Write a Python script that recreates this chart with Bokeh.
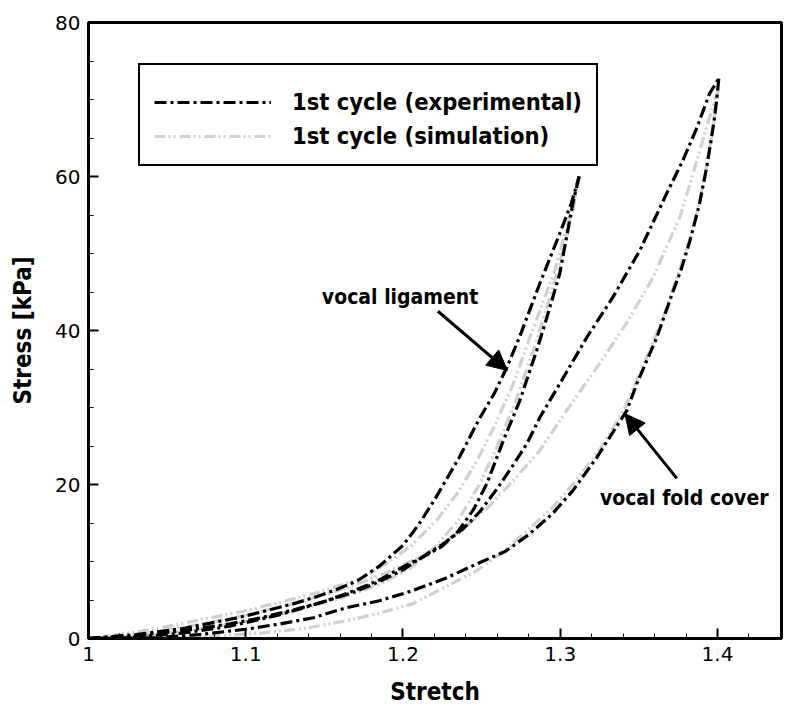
from bokeh.plotting import figure
from bokeh.models import Range1d, FixedTicker, PrintfTickFormatter, Legend, LegendItem, Label, Arrow, NormalHead
from bokeh.embed import file_html
from bokeh.resources import INLINE

# ---- data ----
lig_exp_load_x = [1.00, 1.03, 1.06, 1.075, 1.095, 1.113, 1.13, 1.143, 1.157, 1.171, 1.185, 1.20, 1.21, 1.22, 1.236, 1.249, 1.258, 1.266, 1.274, 1.287, 1.2997, 1.307, 1.312]
lig_exp_load_y = [0, 0.5, 1.3, 1.9, 2.7, 3.6, 4.5, 5.3, 6.3, 7.5, 9.4, 12.1, 14.8, 18.0, 23.6, 28.7, 31.8, 35.2, 39.1, 46.1, 52.6, 56.5, 60.0]
lig_exp_unload_x = [1.312, 1.308, 1.2997, 1.2915, 1.285, 1.2743, 1.2638, 1.2533, 1.245, 1.235, 1.225, 1.212, 1.20, 1.185, 1.17, 1.15, 1.12, 1.09, 1.06, 1.03, 1.00]
lig_exp_unload_y = [60.0, 56.5, 47.4, 41.7, 37.4, 30.9, 25.7, 20.1, 16.8, 13.9, 12.0, 10.5, 9.3, 7.6, 6.3, 4.8, 3.0, 1.6, 0.7, 0.2, 0]

lig_sim_load_x = [1.00, 1.03, 1.058, 1.10, 1.143, 1.175, 1.19, 1.205, 1.222, 1.235, 1.247, 1.258, 1.27, 1.2805, 1.296, 1.305, 1.312]
lig_sim_load_y = [0, 0.8, 1.9, 3.6, 5.8, 7.9, 9.8, 12.0, 15.5, 19.0, 23.1, 27.5, 33.0, 39.0, 47.5, 54.0, 60.0]
lig_sim_unload_x = [1.312, 1.308, 1.302, 1.293, 1.283, 1.272, 1.26, 1.248, 1.235, 1.22, 1.205, 1.185, 1.16, 1.13, 1.10, 1.06, 1.03, 1.00]
lig_sim_unload_y = [60.0, 55.5, 50.5, 44.0, 37.5, 31.0, 25.0, 19.8, 15.3, 11.8, 9.2, 7.0, 5.2, 3.5, 2.2, 0.9, 0.3, 0]

cov_exp_load_x = [1.00, 1.03, 1.06, 1.09, 1.11, 1.13, 1.15, 1.17, 1.185, 1.20, 1.21, 1.225, 1.238, 1.249, 1.26, 1.27, 1.2788, 1.287, 1.2997, 1.3169, 1.3334, 1.3506, 1.3677, 1.378, 1.387, 1.395, 1.4008]
cov_exp_load_y = [0, 0.4, 1.0, 1.9, 2.7, 3.7, 4.8, 6.1, 7.4, 8.9, 10.3, 12.2, 14.2, 16.5, 19.5, 22.5, 25.3, 28.7, 33.1, 39.1, 44.3, 50.4, 57.8, 62.1, 66.4, 70.8, 72.7]
cov_exp_unload_x = [1.4008, 1.3995, 1.398, 1.396, 1.3931, 1.3885, 1.3824, 1.377, 1.3716, 1.3614, 1.3487, 1.3423, 1.3232, 1.308, 1.295, 1.28, 1.265, 1.247, 1.228, 1.206, 1.185, 1.164, 1.143, 1.122, 1.10, 1.07, 1.04, 1.00]
cov_exp_unload_y = [72.7, 70.0, 67.5, 64.8, 61.2, 56.4, 51.6, 48.0, 45.0, 39.1, 33.1, 29.6, 23.5, 19.2, 16.2, 13.5, 11.3, 9.7, 7.9, 6.2, 4.9, 4.0, 2.7, 1.9, 1.2, 0.5, 0.1, 0]

cov_sim_load_x = [1.00, 1.04, 1.07, 1.10, 1.13, 1.15, 1.17, 1.19, 1.21, 1.225, 1.24, 1.255, 1.27, 1.287, 1.304, 1.325, 1.342, 1.359, 1.376, 1.387, 1.393, 1.3996, 1.4005]
cov_sim_load_y = [0, 0.8, 1.8, 3.0, 4.5, 5.7, 7.0, 8.6, 10.5, 12.3, 14.5, 17.2, 20.5, 24.4, 29.6, 35.7, 40.9, 46.9, 54.7, 62.1, 66.4, 70.8, 71.5]
cov_sim_unload_x = [1.4005, 1.397, 1.392, 1.385, 1.376, 1.366, 1.355, 1.34, 1.325, 1.31, 1.295, 1.28, 1.265, 1.247, 1.225, 1.206, 1.185, 1.164, 1.14, 1.11, 1.07, 1.00]
cov_sim_unload_y = [71.5, 66.0, 60.0, 53.5, 48.0, 42.0, 36.5, 29.5, 24.5, 20.5, 17.0, 14.2, 11.5, 8.8, 6.5, 4.5, 3.3, 2.3, 1.4, 0.7, 0.2, 0]

x_ticks = [1.0, 1.1, 1.2, 1.3, 1.4]
x_minor = [1.02, 1.04, 1.06, 1.08, 1.12, 1.14, 1.16, 1.18, 1.22, 1.24, 1.26, 1.28, 1.32, 1.34, 1.36, 1.38, 1.42, 1.44]
y_ticks = [0, 20, 40, 60, 80]
y_minor = [5, 10, 15, 25, 30, 35, 45, 50, 55, 65, 70, 75]

legend_labels = ["1st cycle (experimental)", "1st cycle (simulation)"]

# ---- figure ----
BOLD_FONT = "DejaVu Sans Condensed"
p = figure(frame_width=693, frame_height=616, output_backend="svg", toolbar_location=None,
           x_range=Range1d(1.0, 1.4407), y_range=Range1d(0, 80),
           min_border_left=88, min_border_right=15, min_border_top=22, min_border_bottom=72)
p.grid.visible = False
p.outline_line_color = "black"
p.outline_line_width = 3
p.outline_line_alpha = 1
p.background_fill_color = "white"
p.border_fill_color = "white"

for ax in (p.xaxis[0], p.yaxis[0]):
    ax.axis_line_width = 3
    ax.major_tick_in = 10
    ax.major_tick_out = 0
    ax.minor_tick_in = 5
    ax.minor_tick_out = 0
    ax.major_tick_line_width = 2
    ax.minor_tick_line_width = 1
    ax.major_label_text_font = "DejaVu Sans"
    ax.major_label_text_font_size = "20px"
    ax.major_label_text_color = "black"
    ax.axis_label_text_font = BOLD_FONT
    ax.axis_label_text_font_style = "bold"
    ax.axis_label_text_font_size = "24px"
    ax.axis_label_text_color = "black"
    ax.formatter = PrintfTickFormatter(format="%g")

p.xaxis[0].ticker = FixedTicker(ticks=x_ticks, minor_ticks=x_minor)
p.yaxis[0].ticker = FixedTicker(ticks=y_ticks, minor_ticks=y_minor)
p.xaxis[0].axis_label = "Stretch"
p.yaxis[0].axis_label = "Stress [kPa]"
p.xaxis[0].major_label_standoff = 8
p.yaxis[0].major_label_standoff = 8
p.xaxis[0].axis_label_standoff = 14
p.yaxis[0].axis_label_standoff = 15

EXP = dict(line_color="black", line_width=3.2, line_dash="12 4 3 4")
SIM = dict(line_color="#d0d0d0", line_width=3.2, line_dash="11 3 2 3 2 4")

r_sim = []
for xs, ys in [(lig_sim_load_x, lig_sim_load_y), (lig_sim_unload_x, lig_sim_unload_y),
               (cov_sim_load_x, cov_sim_load_y), (cov_sim_unload_x, cov_sim_unload_y)]:
    r_sim.append(p.line(xs, ys, **SIM))
r_exp = []
for xs, ys in [(lig_exp_load_x, lig_exp_load_y), (lig_exp_unload_x, lig_exp_unload_y),
               (cov_exp_load_x, cov_exp_load_y), (cov_exp_unload_x, cov_exp_unload_y)]:
    r_exp.append(p.line(xs, ys, **EXP))

legend = Legend(items=[LegendItem(label=legend_labels[0], renderers=[r_exp[0]]),
                       LegendItem(label=legend_labels[1], renderers=[r_sim[0]])],
                location=(50, 472))
legend.title = " "
legend.title_text_font_size = "8px"
legend.title_standoff = 0
legend.border_line_color = "black"
legend.border_line_width = 2
legend.border_line_alpha = 1
legend.background_fill_alpha = 1
legend.padding = 14
legend.spacing = 6
legend.glyph_width = 117
legend.glyph_height = 26
legend.label_height = 26
legend.label_standoff = 21
legend.label_text_font = BOLD_FONT
legend.label_text_font_style = "bold"
legend.label_text_font_size = "23.5px"
legend.label_text_color = "black"
legend.margin = 0
p.add_layout(legend, "center")

# ---- annotations ----
ann_font = dict(text_font=BOLD_FONT, text_font_style="bold", text_font_size="21px", text_color="black")
p.add_layout(Label(x=1.1484, y=44.3, text="vocal ligament", text_baseline="middle", **ann_font))
p.add_layout(Label(x=1.3252, y=18.2, text="vocal fold cover", text_baseline="middle", **ann_font))
p.add_layout(Arrow(x_start=1.2222, y_start=42.5, x_end=1.2664, y_end=34.8, line_width=3, line_color="black",
                   end=NormalHead(size=20, fill_color="black", line_color="black")))
p.add_layout(Arrow(x_start=1.3741, y_start=20.8, x_end=1.3411, y_end=29.2, line_width=3, line_color="black",
                   end=NormalHead(size=20, fill_color="black", line_color="black")))

open("out.html", "w").write(file_html(p, INLINE))
